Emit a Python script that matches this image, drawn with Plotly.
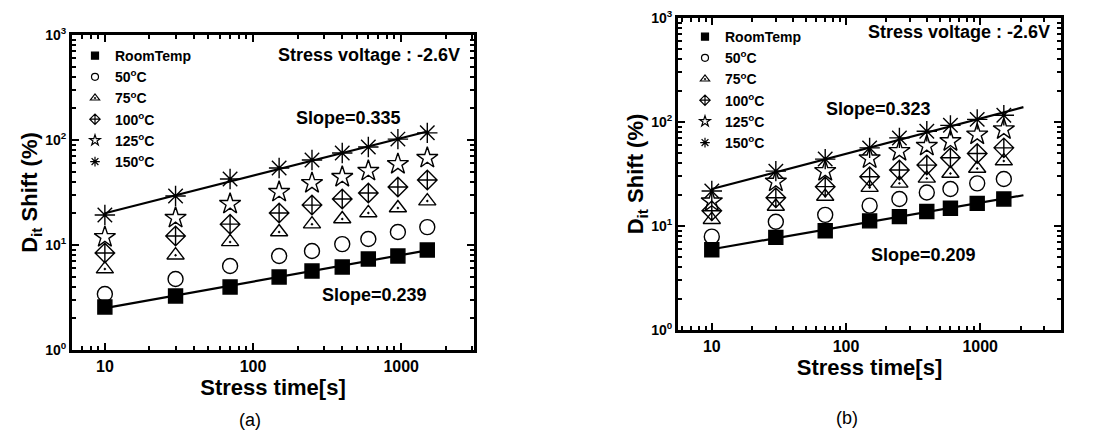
import numpy as np
import plotly.graph_objects as go

# ---------------- data ----------------
stress_time = [10, 30, 70, 150, 250, 400, 600, 950, 1500]
series_names = ["RoomTemp", "50<sup>o</sup>C", "75<sup>o</sup>C",
                "100<sup>o</sup>C", "125<sup>o</sup>C", "150<sup>o</sup>C"]

# panel (a)
a_room = [2.57, 3.27, 3.98, 4.96, 5.65, 6.17, 7.36, 7.86, 8.96]
a_50 = [3.41, 4.74, 6.31, 7.86, 8.77, 10.2, 11.4, 13.3, 14.8]
a_75 = [5.9, 8.0, 10.7, 13.3, 15.8, 17.7, 20.2, 22.5, 26.2]
a_100 = [8.4, 12.2, 15.8, 20.2, 24.0, 27.4, 31.3, 35.7, 41.6]
a_125 = [11.9, 18.1, 24.6, 32.0, 38.9, 44.4, 50.7, 59.0, 67.4]
a_150 = [19.3, 29.3, 42.5, 54.1, 64.5, 75.2, 85.7, 102, 117]

# panel (b)
b_room = [5.92, 7.77, 9.0, 11.2, 12.3, 13.8, 14.8, 16.5, 18.2]
b_50 = [7.9, 11.0, 12.8, 15.7, 18.2, 21.0, 22.7, 25.7, 28.3]
b_75 = [11.5, 15.4, 19.2, 23.4, 25.7, 28.7, 32.0, 35.7, 42.1]
b_100 = [14.0, 18.7, 23.9, 29.8, 34.5, 38.5, 45.3, 49.8, 56.4]
b_125 = [17.2, 26.7, 33.7, 44.6, 52.5, 58.9, 65.3, 75.6, 85.1]
b_150 = [21.7, 33.7, 44.0, 56.4, 70.3, 81.5, 92.9, 106, 116]

# fit-line time spans
fit_span_a = [10, 1500]
fit_span_b = [10, 2100]

slope_labels_a = ["Slope=0.335", "Slope=0.239"]
slope_labels_b = ["Slope=0.323", "Slope=0.209"]
voltage_label = "Stress voltage : -2.6V"
x_tickvals = [10, 100, 1000]
x_ticktext = ["10", "100", "1000"]
y_tickvals = [1, 10, 100, 1000]
y_ticktext = ["10<sup>0</sup>", "10<sup>1</sup>", "10<sup>2</sup>", "10<sup>3</sup>"]

# ---------------- styling ----------------
FONT = "Arial, 'Liberation Sans', sans-serif"
PAGE_OFF = 8                     # default body margin of the html page
W, H = 1095 - PAGE_OFF, 437 - PAGE_OFF


def px(xp):        # page x pixel -> paper fraction
    return (xp - PAGE_OFF) / W


def py(yp):        # page y pixel -> paper fraction
    return 1 - (yp - PAGE_OFF) / H


symbols = ["square", "circle-open", "triangle-up-open-dot",
           "diamond-cross-open", "star-open", "asterisk-open"]
sizes = [14, 15, 15, 15, 16, 17]
leg_sizes = [7, 7, 8, 8, 8, 8]

fig = go.Figure()


def add_panel(series, span, xa, ya, legend):
    for name, vals, sym, sz, lsz in zip(series_names, series, symbols, sizes, leg_sizes):
        fig.add_trace(go.Scatter(
            x=stress_time, y=vals, mode="markers", xaxis=xa, yaxis=ya,
            showlegend=False, name=name,
            marker=dict(symbol=sym, size=sz, color="black",
                        line=dict(color="black", width=1.4))))
        fig.add_trace(go.Scatter(
            x=[None], y=[None], mode="markers", xaxis=xa, yaxis=ya,
            name=name, legend=legend, showlegend=True,
            marker=dict(symbol=sym, size=lsz, color="black",
                        line=dict(color="black", width=1.2))))
    # power-law fit lines for lowest and highest temperature
    for vals in (series[0], series[-1]):
        k, c = np.polyfit(np.log10(stress_time), np.log10(vals), 1)
        xs = np.array(span, dtype=float)
        ys = 10 ** (c + k * np.log10(xs))
        fig.add_trace(go.Scatter(
            x=xs, y=ys, mode="lines", xaxis=xa, yaxis=ya, showlegend=False,
            line=dict(color="black", width=2.2), hoverinfo="skip"))


add_panel([a_room, a_50, a_75, a_100, a_125, a_150], fit_span_a, "x", "y", "legend")
add_panel([b_room, b_50, b_75, b_100, b_125, b_150], fit_span_b, "x2", "y2", "legend2")

axis_common = dict(
    type="log", showline=True, linecolor="black", linewidth=2.8,
    mirror="allticks", ticks="inside", ticklen=7, tickwidth=1.8,
    tickcolor="black", showgrid=False, zeroline=False, automargin=False,
    ticklabeloverflow="allow",
    minor=dict(ticks="inside", ticklen=4, tickwidth=1.5, tickcolor="black",
               dtick="D1", showgrid=False),
)

xa_common = dict(axis_common, tickmode="array", tickvals=x_tickvals,
                 ticktext=x_ticktext,
                 tickfont=dict(family=FONT, size=16, color="black", weight="bold"),
                 title=dict(text="Stress time[s]", standoff=4,
                            font=dict(family=FONT, size=22, color="black", weight="bold")))
ya_common = dict(axis_common, tickmode="array", tickvals=y_tickvals,
                 ticktext=y_ticktext, range=[0, 3],
                 tickfont=dict(family=FONT, size=14, color="black", weight="bold"),
                 title=dict(text="D<sub>it</sub> Shift (%)", standoff=2,
                            font=dict(family=FONT, size=22, color="black", weight="bold")))

legend_font = dict(family=FONT, size=14, color="black", weight="bold")
fig.update_layout(
    width=W, height=H,
    margin=dict(l=0, r=0, t=0, b=0),
    paper_bgcolor="white", plot_bgcolor="white",
    font=dict(family=FONT, color="black"),
    xaxis=dict(xa_common, domain=[px(72), px(474)], anchor="y",
               range=[np.log10(6), np.log10(3100)]),
    yaxis=dict(ya_common, domain=[py(350), py(35)], anchor="x"),
    xaxis2=dict(xa_common, domain=[px(678), px(1061)], anchor="y2",
                range=[np.log10(5.6), np.log10(4000)]),
    yaxis2=dict(ya_common, domain=[py(330), py(18)], anchor="x2"),
    legend=dict(x=px(75), y=py(40), xanchor="left", yanchor="top",
                bgcolor="rgba(0,0,0,0)", borderwidth=0, font=legend_font,
                itemsizing="trace", tracegroupgap=0),
    legend2=dict(x=px(685), y=py(21), xanchor="left", yanchor="top",
                 bgcolor="rgba(0,0,0,0)", borderwidth=0, font=legend_font,
                 itemsizing="trace", tracegroupgap=0),
    showlegend=True,
)

bold18 = dict(family=FONT, size=18, color="black", weight="bold")
label_font = dict(family=FONT, size=18, color="black")
annots = [
    dict(text=voltage_label, xref="x domain", yref="y domain", x=0.970, y=0.937,
         xanchor="right", yanchor="middle", font=bold18),
    dict(text=slope_labels_a[0], xref="x domain", yref="y domain", x=0.687, y=0.737,
         xanchor="center", yanchor="middle", font=bold18),
    dict(text=slope_labels_a[1], xref="x domain", yref="y domain", x=0.752, y=0.175,
         xanchor="center", yanchor="middle", font=bold18),
    dict(text="(a)", xref="paper", yref="paper", x=px(250), y=py(420),
         xanchor="center", yanchor="middle", font=label_font),
    dict(text=voltage_label, xref="x2 domain", yref="y2 domain", x=0.9765, y=0.954,
         xanchor="right", yanchor="middle", font=bold18),
    dict(text=slope_labels_b[0], xref="x2 domain", yref="y2 domain", x=0.5235, y=0.707,
         xanchor="center", yanchor="middle", font=bold18),
    dict(text=slope_labels_b[1], xref="x2 domain", yref="y2 domain", x=0.641, y=0.239,
         xanchor="center", yanchor="middle", font=bold18),
    dict(text="(b)", xref="paper", yref="paper", x=px(847), y=py(418),
         xanchor="center", yanchor="middle", font=label_font),
]
fig.update_layout(annotations=[dict(a, showarrow=False) for a in annots])

fig.write_html("out.html")
